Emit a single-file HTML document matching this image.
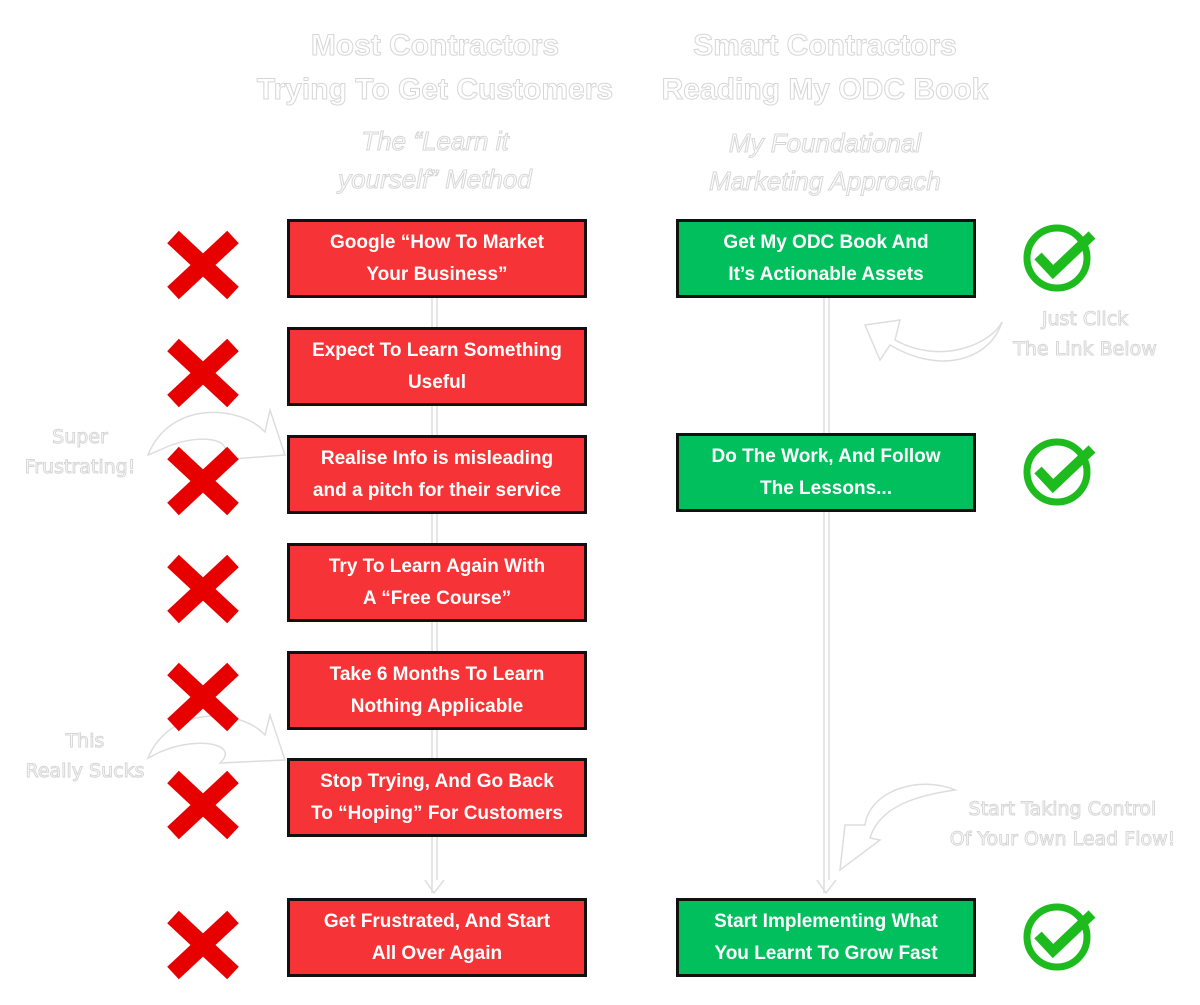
<!DOCTYPE html>
<html><head><meta charset="utf-8"><style>
body{margin:0;width:1200px;height:1005px;background:#fff;position:relative;overflow:hidden;font-family:"Liberation Sans",sans-serif}
.b{position:absolute;box-sizing:border-box;border:3px solid #111;color:#fff;font-weight:bold;font-size:19px;line-height:32px;text-align:center;display:flex;align-items:center;justify-content:center;width:300px;height:79px}
.r{background:#f63336;left:287px}
.g{background:#02bf5e;left:676px}
.h{position:absolute;color:#fff;-webkit-text-stroke:1px #d6d6d6;text-align:center;font-weight:bold}
.w{position:absolute;color:#fff;-webkit-text-stroke:1px #d6d6d6;font-family:"DejaVu Sans",sans-serif;font-size:19px;line-height:30px;text-align:center}
svg{position:absolute;left:0;top:0}
</style></head><body>
<svg width="1200" height="1005">
<g stroke="#ddd" stroke-width="1.5" fill="none">
<line x1="432" y1="297" x2="432" y2="893"/><line x1="437" y1="297" x2="437" y2="880"/>
<path d="M425 880 L434 893 L444 880"/>
<line x1="824" y1="297" x2="824" y2="893"/><line x1="829" y1="297" x2="829" y2="880"/>
<path d="M817 880 L826 893 L836 880"/>
<path d="M148 455 C170 400 240 405 265 432 L270 410 L285 455 L220 460 C240 440 200 430 160 450 Z"/>
<path d="M148 758 C170 705 240 708 265 735 L270 715 L285 760 L220 763 C240 745 200 735 160 752 Z"/>
<path d="M1002 322 C990 345 940 365 895 340 L900 320 L865 325 L880 360 L890 345 C940 375 990 360 1002 322 Z"/>
<path d="M955 790 C920 775 870 790 865 825 L845 825 L840 870 L880 840 L870 838 C880 805 920 795 955 790 Z"/>
</g>
<g stroke="#e60000" stroke-width="17" stroke-linecap="butt">
<g id="x"><line x1="173" y1="237" x2="233" y2="293"/><line x1="233" y1="237" x2="173" y2="293"/></g>
<use href="#x" y="108"/><use href="#x" y="216"/><use href="#x" y="324"/><use href="#x" y="432"/><use href="#x" y="540"/><use href="#x" y="680"/>
</g>
<g id="c" fill="none" stroke="#1dbb1d" stroke-width="7">
<circle cx="1057" cy="258" r="30"/><path d="M1038 256 L1053 272 L1092 235" stroke-width="10"/>
</g>
<use href="#c" y="214"/><use href="#c" y="679"/>
</svg>
<div class="h" style="left:230px;top:24px;width:410px;font-size:30px;line-height:44px">Most Contractors<br>Trying To Get Customers</div>
<div class="h" style="left:620px;top:24px;width:410px;font-size:30px;line-height:44px">Smart Contractors<br>Reading My ODC Book</div>
<div class="h" style="left:280px;top:122px;width:310px;font-size:26px;line-height:38px;font-style:italic;font-weight:normal">The “Learn it<br>yourself” Method</div>
<div class="h" style="left:670px;top:124px;width:310px;font-size:26px;line-height:38px;font-style:italic;font-weight:normal">My Foundational<br>Marketing Approach</div>
<div class="b r" style="top:219px">Google “How To Market<br>Your Business”</div>
<div class="b r" style="top:327px">Expect To Learn Something<br>Useful</div>
<div class="b r" style="top:435px">Realise Info is misleading<br>and a pitch for their service</div>
<div class="b r" style="top:543px">Try To Learn Again With<br>A “Free Course”</div>
<div class="b r" style="top:651px">Take 6 Months To Learn<br>Nothing Applicable</div>
<div class="b r" style="top:758px">Stop Trying, And Go Back<br>To “Hoping” For Customers</div>
<div class="b r" style="top:898px">Get Frustrated, And Start<br>All Over Again</div>
<div class="b g" style="top:219px">Get My ODC Book And<br>It’s Actionable Assets</div>
<div class="b g" style="top:433px">Do The Work, And Follow<br>The Lessons...</div>
<div class="b g" style="top:898px">Start Implementing What<br>You Learnt To Grow Fast</div>
<div class="w" style="left:10px;top:422px;width:140px">Super<br>Frustrating!</div>
<div class="w" style="left:10px;top:726px;width:150px">This<br>Really Sucks</div>
<div class="w" style="left:995px;top:304px;width:180px">Just Click<br>The Link Below</div>
<div class="w" style="left:925px;top:794px;width:275px">Start Taking Control<br>Of Your Own Lead Flow!</div>
</body></html>
